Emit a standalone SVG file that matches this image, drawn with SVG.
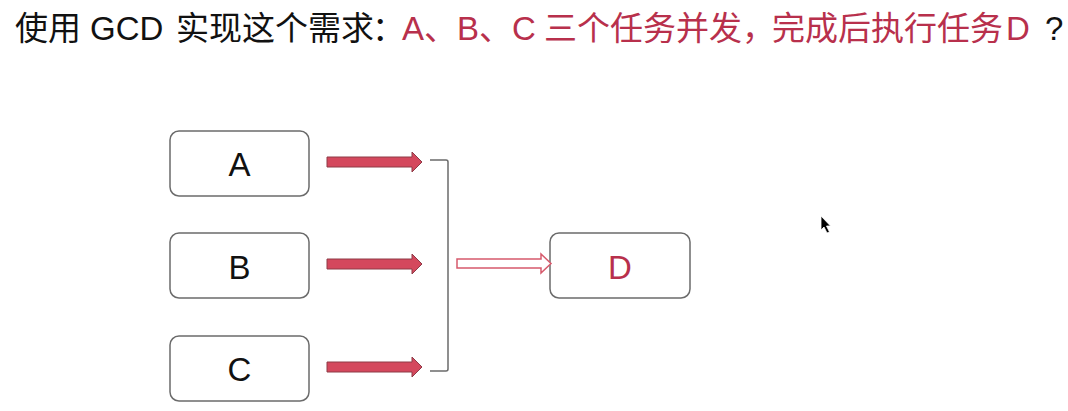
<svg xmlns="http://www.w3.org/2000/svg" width="1068" height="411" viewBox="0 0 1068 411">
  <style>
    .title { font-family: "Liberation Sans", "Noto Sans CJK SC", sans-serif; font-size: 33px; fill: #111; }
    .red { fill: #b8304c; }
    .box { fill: #fff; stroke: #6b6b6b; stroke-width: 1.5; }
    .lbl { font-family: "Liberation Sans", "Noto Sans CJK SC", sans-serif; font-size: 33px; fill: #111; text-anchor: middle; }
    .lbl.red { fill: #b8304c; }
    .arrow { fill: #d4485d; stroke: #8e3a47; stroke-width: 1; }
    .hollow { fill: #fff; stroke: #d65a6c; stroke-width: 1.5; }
    .bracket { fill: none; stroke: #6b6b6b; stroke-width: 1.5; }
  </style>
  <rect width="1068" height="411" fill="#fff"/>
  <text class="title" y="40"><tspan x="15">使用</tspan><tspan x="90">GCD</tspan><tspan x="176">实现这个需求</tspan><tspan x="372">：</tspan><tspan class="red" x="402">A、B、C</tspan><tspan class="red" x="544">三个任务并发</tspan><tspan class="red" x="742">，</tspan><tspan class="red" x="772">完成后执行任务</tspan><tspan class="red" x="1006">D</tspan><tspan x="1045">?</tspan></text>

  <g id="node-A"><rect class="box" x="170" y="131" width="139" height="65" rx="9"/><text class="lbl" x="239.5" y="176">A</text></g>
  <g id="node-B"><rect class="box" x="170" y="233" width="139" height="65" rx="9"/><text class="lbl" x="239.5" y="279">B</text></g>
  <g id="node-C"><rect class="box" x="170" y="336" width="139" height="65" rx="9"/><text class="lbl" x="239.5" y="381">C</text></g>
  <g id="node-D"><rect class="box" x="550" y="233" width="140" height="65" rx="9"/><text class="lbl red" x="620" y="279">D</text></g>

  <g id="connectors">
    <polygon class="arrow" points="327,157 412,157 412,152 422,162 412,172 412,167 327,167"/>
    <polygon class="arrow" points="327,259 412,259 412,254 422,264 412,274 412,269 327,269"/>
    <polygon class="arrow" points="327,362 412,362 412,357 422,367 412,377 412,372 327,372"/>
    <path class="bracket" d="M430,160 H446 Q448,160 448,162 V369 Q448,371 446,371 H430"/>
    <polygon class="hollow" points="457,259 541,259 541,254 551,263.5 541,273 541,268 457,268"/>
  </g>

  <path d="M821,216 L821,230 L824,227 L827,233 L829.5,232 L826.5,226 L830.5,226 Z" fill="#000" stroke="#fff" stroke-width="0.8"/>
</svg>
